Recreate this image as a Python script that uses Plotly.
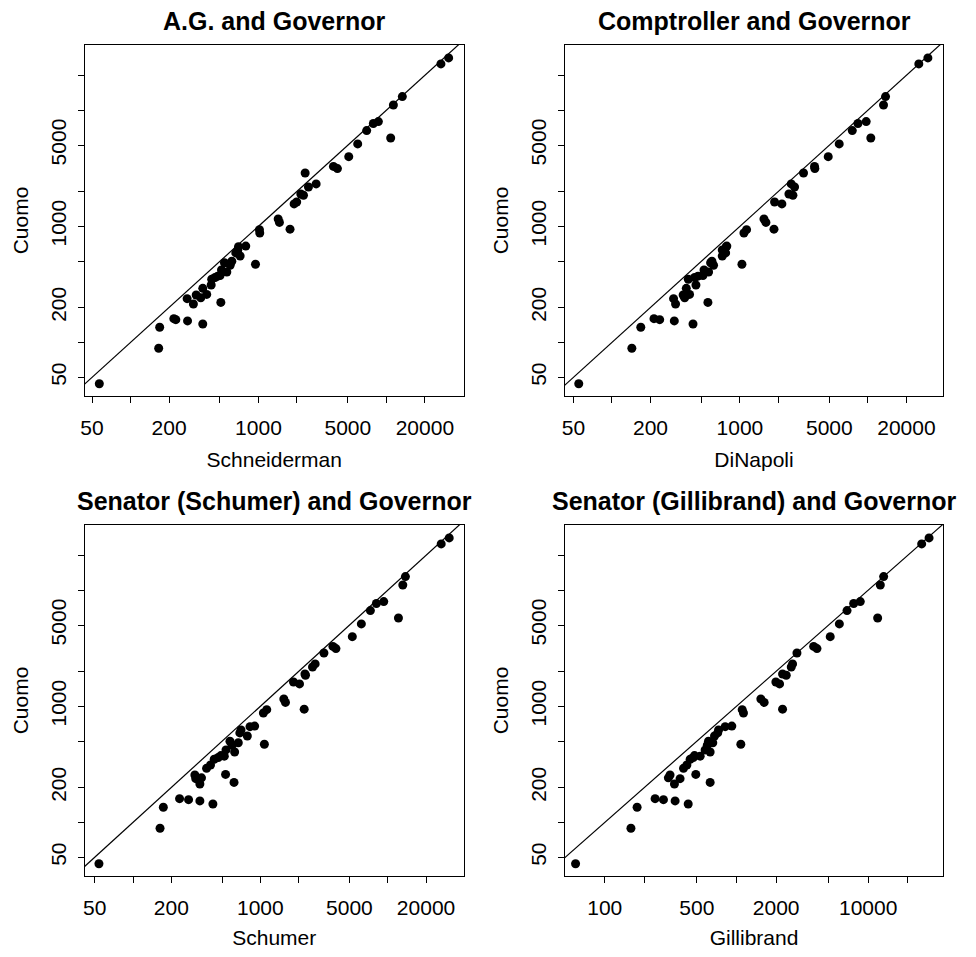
import plotly.graph_objects as go

# Cuomo votes (shared y values for all panels)
cuomo = [44, 89, 135, 160, 157, 153, 144, 221,
         214, 238, 242, 256, 259, 292, 312, 350, 362, 372, 376, 404, 421, 462, 485, 500, 555, 590, 625, 668, 675,
         471,
         875, 935, 945, 1080, 1155, 1560, 1620, 1850, 1900, 2180, 2318, 2880, 3140, 3280, 3980, 5130, 5767,
         6680, 7680, 7987, 11100, 13100, 25060, 28250]

schneiderman = [57, 166, 169, 218, 226, 279, 367, 508,
                310, 277, 354, 326, 394, 367, 427, 431, 458, 480, 501, 566, 514, 601, 542, 619, 719, 665, 690, 698, 796,
                948,
                1024, 1018, 1766, 1459, 1426, 1900, 1990, 2249, 2143, 2460, 2825, 2318, 4144, 3857, 5080, 5970, 10810,
                7016, 7909, 8660, 11350, 13330, 26700, 30690]

dinapoli = [55, 143, 168, 213, 236, 307, 430, 562,
            314, 303, 370, 360, 404, 381, 453, 395, 443, 470, 514, 569, 524, 622, 590, 604, 728, 773, 728, 781, 790,
            1037,
            1075, 1127, 1845, 1597, 1541, 2128, 1866, 2594, 2415, 2673, 2518, 3141, 3850, 3828, 4899, 5970, 10540,
            7550, 8360, 9700, 13250, 13740, 25000, 29440]

schumer = [54, 163, 173, 232, 273, 335, 424, 621,
           335, 311, 345, 306, 533, 378, 406, 434, 467, 521, 490, 628, 537, 600, 671, 577, 790, 690, 705, 829, 902,
           1075,
           1056, 1122, 2208, 1574, 1528, 2030, 1820, 2260, 2240, 2567, 2693, 3155, 3920, 3712, 5272, 6208, 12140,
           7309, 8148, 9305, 13130, 13770, 26300, 30400]

gillibrand = [60, 158, 176, 241, 279, 342, 430, 631,
              338, 373, 304, 313, 491, 396, 420, 445, 470, 530, 480, 631, 578, 600, 661, 613, 681, 720, 731, 821, 922,
              1079,
              1130, 1105, 2238, 1622, 1531, 2124, 1991, 2387, 2238, 2605, 2667, 2878, 4084, 3853, 5150, 6040, 11800,
              6907, 7760, 8710, 12360, 13100, 25470, 28980]

titles = ["A.G. and Governor", "Comptroller and Governor",
          "Senator (Schumer) and Governor", "Senator (Gillibrand) and Governor"]
xlabels = ["Schneiderman", "DiNapoli", "Schumer", "Gillibrand"]
xseries = [schneiderman, dinapoli, schumer, gillibrand]

ticks_a = [50, 100, 200, 500, 1000, 2000, 5000, 10000, 20000]
text_a = ["50", "", "200", "", "1000", "", "5000", "", "20000"]
ticks_b = [100, 200, 500, 1000, 2000, 5000, 10000, 20000]
text_b = ["100", "", "500", "", "2000", "", "10000", ""]
yticks = [50, 100, 200, 500, 1000, 2000, 5000, 10000, 20000]
ytext = ["50", "", "200", "", "1000", "", "5000", "", ""]

# the page body has an 8px margin, so the figure is 960x941 and coordinates are shifted by 8
OFF = 8
W, H = 960, 941
# panel boxes in window pixels (left, right, top, bottom)
boxes = [(85, 463.5, 45, 396), (565, 943, 45, 396),
         (85, 463.5, 525, 876), (565, 943, 525, 876)]
xranges = [[1.644, 4.603], [1.633, 4.587], [1.623, 4.595], [1.698, 4.568]]
yrange = [1.538, 4.562]

FONT = "Liberation Sans, Arial, Helvetica, sans-serif"
fig = go.Figure()
layout = dict(width=W, height=H, margin=dict(l=0, r=0, t=0, b=0, autoexpand=False),
              paper_bgcolor="white", plot_bgcolor="white", showlegend=False,
              font=dict(family=FONT, size=21, color="black"))
annotations = []
for i in range(4):
    l, r, t, b = [v - OFF for v in boxes[i]]
    xa = "xaxis" if i == 0 else f"xaxis{i+1}"
    ya = "yaxis" if i == 0 else f"yaxis{i+1}"
    xr = "x" if i == 0 else f"x{i+1}"
    yr = "y" if i == 0 else f"y{i+1}"
    tv, tt = (ticks_b, text_b) if i == 3 else (ticks_a, text_a)
    common = dict(type="log", showgrid=False, zeroline=False, showline=True, linecolor="black",
                  linewidth=1, mirror=True, ticks="outside", ticklen=6, tickwidth=1, tickcolor="black",
                  automargin=False,
                  tickfont=dict(family=FONT, size=21, color="black"))
    layout[xa] = dict(common, domain=[l / W, r / W], range=xranges[i], anchor=yr,
                      tickvals=tv, ticktext=tt, ticklabelstandoff=7,
                      title=dict(text=xlabels[i], font=dict(family=FONT, size=21), standoff=14))
    layout[ya] = dict(common, domain=[1 - b / H, 1 - t / H], range=yrange, anchor=xr,
                      tickvals=yticks, ticktext=ytext, tickangle=-90, ticklabelstandoff=4,
                      title=dict(text="Cuomo", font=dict(family=FONT, size=21), standoff=12))
    fig.add_trace(go.Scatter(x=[1, 1e6], y=[1, 1e6], mode="lines", line=dict(color="black", width=1.2),
                             xaxis=xr, yaxis=yr, hoverinfo="skip"))
    fig.add_trace(go.Scatter(x=xseries[i], y=cuomo, mode="markers",
                             marker=dict(color="black", size=9, symbol="circle"),
                             xaxis=xr, yaxis=yr))
    annotations.append(dict(text="<b>" + titles[i] + "</b>", x=(l + r) / 2 / W, y=1 - (t - 24) / H,
                            xref="paper", yref="paper", showarrow=False, xanchor="center", yanchor="middle",
                            font=dict(family=FONT, size=25, color="black")))
layout["annotations"] = annotations
fig.update_layout(**layout)
fig.write_html("out.html")
